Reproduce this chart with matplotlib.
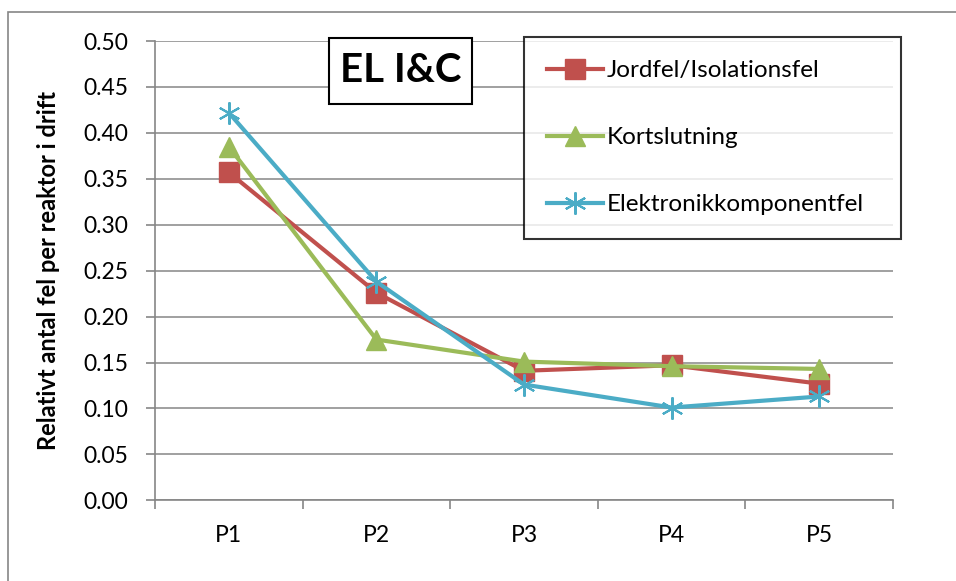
import matplotlib
matplotlib.use("Agg")
import matplotlib.pyplot as plt
from matplotlib.patches import Rectangle
from matplotlib.ticker import MultipleLocator, FixedLocator, FormatStrFormatter

plt.rcParams['font.family'] = ['Lato', 'DejaVu Sans']

# Données : relatif antal fel per reaktor i drift
perioder = ['P1', 'P2', 'P3', 'P4', 'P5']
jordfel = [0.357, 0.226, 0.141, 0.147, 0.127]
kortslutning = [0.385, 0.175, 0.151, 0.146, 0.143]
elektronik = [0.422, 0.238, 0.126, 0.101, 0.113]

rod = '#C0504D'
gron = '#9BBB59'
bla = '#4BACC6'
gra = '#868686'

fig = plt.figure(figsize=(9.56, 5.81), dpi=100)
ax = fig.add_axes([155 / 956, 80.7 / 581, 738 / 956, 459.3 / 581])

x = range(1, len(perioder) + 1)
ax.plot(x, jordfel, color=rod, lw=3, marker='s', ms=14, mec=rod, mfc=rod,
        label='Jordfel/Isolationsfel', zorder=3)
ax.plot(x, kortslutning, color=gron, lw=3, marker='^', ms=15, mec=gron, mfc=gron,
        label='Kortslutning', zorder=4)
ax.plot(x, elektronik, color=bla, lw=3, marker=(6, 2, 0), ms=16, mec=bla, mew=1.5,
        label='Elektronikkomponentfel', zorder=5)

# Axlar
ax.set_xlim(0.5, 5.5)
ax.set_ylim(0, 0.5)
ax.yaxis.set_major_locator(MultipleLocator(0.05))
ax.yaxis.set_major_formatter(FormatStrFormatter('%.2f'))
ax.set_xticks(list(x))
ax.set_xticklabels(perioder)
ax.xaxis.set_minor_locator(FixedLocator([0.5, 1.5, 2.5, 3.5, 4.5, 5.5]))
ax.tick_params(axis='x', which='major', length=0, pad=18, labelsize=16.5)
ax.tick_params(axis='x', which='minor', length=6.5, width=1.2, color=gra)
ax.tick_params(axis='y', length=6.5, width=1.2, color=gra, pad=13, labelsize=16.5)

ax.grid(axis='y', color=gra, lw=1.1)
ax.set_axisbelow(True)
for s in ['top', 'right']:
    ax.spines[s].set_visible(False)
for s in ['left', 'bottom']:
    ax.spines[s].set_color(gra)
    ax.spines[s].set_linewidth(1.2)

ax.set_ylabel('Relativt antal fel per reaktor i drift', fontsize=17, fontweight='bold')
ax.yaxis.set_label_coords(-0.1287, 0.5)

# Rubrikruta
ax.add_patch(Rectangle((0.2358, 0.8628), 0.1937, 0.1444, transform=ax.transAxes,
                       fill=True, facecolor='white', edgecolor='black', lw=1.5,
                       clip_on=False, zorder=6))
ax.text(0.3327, 0.9347, 'EL I&C', transform=ax.transAxes, ha='center', va='center',
        fontsize=29, fontweight='bold', zorder=7)

# Förklaring
leg = ax.legend(loc='upper left', bbox_to_anchor=(0.5, 1.0087, 0.511, 0.0),
                mode='expand', fontsize=17.5, frameon=True, fancybox=False,
                edgecolor='black', handlelength=2.3, handletextpad=0.15,
                labelspacing=1.9, borderpad=0.95, borderaxespad=0.0)
leg.get_frame().set_linewidth(1.5)
leg.set_zorder(8)

# Diagramram
fig.patches.append(Rectangle((7.5 / 956, -0.1), 2, 1.1 - 11.7 / 581,
                             transform=fig.transFigure, fill=False,
                             edgecolor=gra, lw=1.2))

fig.savefig('out.png', dpi=100)
